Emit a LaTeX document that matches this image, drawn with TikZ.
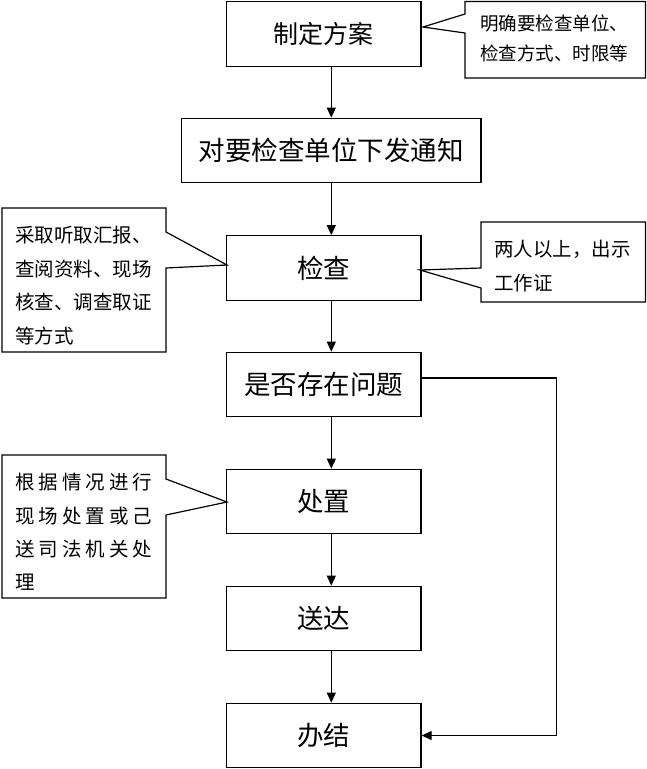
\documentclass[tikz,border=0pt]{standalone}
\usepackage{fontspec}
\newfontfamily\cjk{Noto Sans CJK SC}
\usetikzlibrary{arrows.meta}
\newcommand\sk{\hspace{4pt}}
\begin{document}
\begin{tikzpicture}[x=1pt,y=-1pt,
  box/.style={draw=black,line width=1.2pt,minimum width=194.3pt,minimum height=64.5pt,inner sep=0pt,font=\cjk\fontsize{26.5}{30}\selectfont},
  arr/.style={line width=1.2pt,-{Triangle[length=10pt,width=9pt]}},
  callout/.style={draw=black,line width=1.2pt,fill=white,line join=miter},
  ctext/.style={anchor=west,align=left,inner sep=0pt}]
\useasboundingbox (0,0) rectangle (647,769);
% main boxes
\node[box,font=\cjk\fontsize{25}{30}\selectfont] (b1) at (323.9,34) {制定方案};
\node[box,minimum width=299.3pt] (b2) at (331.3,150.5) {对要检查单位下发通知};
\node[box] (b3) at (323.9,268) {检查};
\node[box] (b4) at (323.9,384.5) {是否存在问题};
\node[box] (b5) at (323.9,501.5) {处置};
\node[box] (b6) at (323.9,618.5) {送达};
\node[box] (b7) at (323.9,735.5) {办结};
% arrows
\draw[arr] (b1.south -| b2.center) -- (b2.north);
\draw[arr] (b2.south) -- (b3.north -| b2.center);
\draw[arr] (b3.south -| b2.center) -- (b4.north -| b2.center);
\draw[arr] (b4.south -| b2.center) -- (b5.north -| b2.center);
\draw[arr] (b5.south -| b2.center) -- (b6.north -| b2.center);
\draw[arr] (b6.south -| b2.center) -- (b7.north -| b2.center);
\draw[arr] ([yshift=6.5pt]b4.east) -- ++(135,0) |- (b7.east);
% callouts
\draw[callout] (465,1.5) -- (645.5,1.5) -- (645.5,78) -- (465,78) -- (465,33) -- (423,27) -- (465,14) -- cycle;
\draw[callout] (2,208) -- (166,208) -- (166,232) -- (227,265) -- (166,268) -- (166,352) -- (2,352) -- cycle;
\draw[callout] (481,222) -- (645.5,222) -- (645.5,302) -- (481,302) -- (481,288) -- (420,270) -- (481,268) -- cycle;
\draw[callout] (2,455) -- (166,455) -- (166,479) -- (227,502) -- (166,515) -- (166,598) -- (2,598) -- cycle;
\node[ctext,font=\cjk\fontsize{18.5}{30}\selectfont] (c1) at (480,38.5) {明确要检查单位、\\检查方式、时限等};
\node[ctext,font=\cjk\fontsize{19.5}{33.7}\selectfont] (c2) at (15,285.5) {采取听取汇报、\\查阅资料、现场\\核查、调查取证\\等方式};
\node[ctext,font=\cjk\fontsize{19.5}{34}\selectfont] (c3) at (494,266) {两人以上，出示\\工作证};
\node[ctext,font=\cjk\fontsize{19.5}{33.3}\selectfont] (c4) at (15,532) {根\sk 据\sk 情\sk 况\sk 进\sk 行\\现\sk 场\sk 处\sk 置\sk 或\sk 己\\送\sk 司\sk 法\sk 机\sk 关\sk 处\\理};
\end{tikzpicture}
\end{document}
